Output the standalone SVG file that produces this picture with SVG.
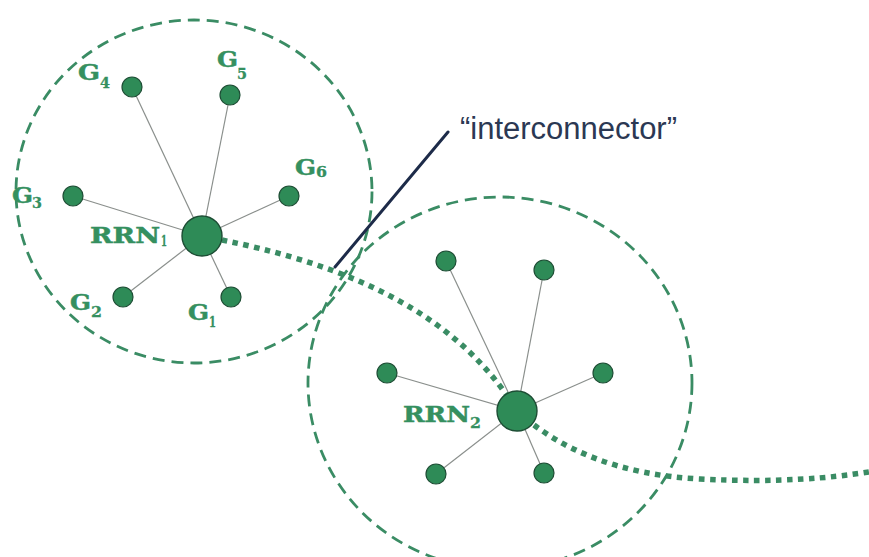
<svg xmlns="http://www.w3.org/2000/svg" width="869" height="557" viewBox="0 0 869 557">
  <style>
    .zone { fill: none; stroke: #3a8c64; stroke-width: 2.8; stroke-dasharray: 12 7; }
    .spoke { stroke: #8a8f8c; stroke-width: 1.2; }
    .tie { fill: none; stroke: #3a8c64; stroke-width: 5.5; stroke-dasharray: 5.5 5.5; }
    .ic { stroke: #1d2b49; stroke-width: 3; stroke-linecap: round; }
    .gen { fill: #2e8b57; stroke: #1d4d34; stroke-width: 1.2; }
    .hub { fill: #2e8b57; stroke: #1d4d34; stroke-width: 1.4; }
    .lbl { font-family: "DejaVu Serif", "Liberation Serif", serif; font-weight: bold; fill: #35905f; font-size: 21.5px; stroke: #35905f; stroke-width: 0.5; }
    .sub { font-family: "DejaVu Serif", "Liberation Serif", serif; font-weight: bold; fill: #35905f; font-size: 14px; stroke: #35905f; stroke-width: 0.3; }
    .note { font-family: "Liberation Sans", Arial, sans-serif; fill: #2b3853; font-size: 31px; }
  </style>

  <!-- regional boundaries -->
  <g id="regions">
    <ellipse id="region1" class="zone" cx="194" cy="191.5" rx="178" ry="171.5"/>
    <ellipse id="region2" class="zone" cx="500" cy="383" rx="192" ry="186"/>
  </g>

  <!-- connectors -->
  <g id="connectors">
    <line class="spoke" x1="202" y1="236" x2="132" y2="87"/>
    <line class="spoke" x1="202" y1="236" x2="230" y2="95"/>
    <line class="spoke" x1="202" y1="236" x2="289" y2="196"/>
    <line class="spoke" x1="202" y1="236" x2="73" y2="196"/>
    <line class="spoke" x1="202" y1="236" x2="123" y2="297"/>
    <line class="spoke" x1="202" y1="236" x2="231" y2="297"/>

    <line class="spoke" x1="517" y1="411" x2="446" y2="261"/>
    <line class="spoke" x1="517" y1="411" x2="544" y2="270"/>
    <line class="spoke" x1="517" y1="411" x2="603" y2="373"/>
    <line class="spoke" x1="517" y1="411" x2="387" y2="373"/>
    <line class="spoke" x1="517" y1="411" x2="436" y2="474"/>
    <line class="spoke" x1="517" y1="411" x2="544" y2="473"/>

    <path class="tie" d="M222,240 C320,260 450,300 517,411"/>
    <path class="tie" d="M517,411 C560,450 620,475 700,479 C780,483 830,478 869,472"/>

    <line class="ic" x1="335" y1="267" x2="448" y2="132"/>
  </g>

  <!-- region 1 -->
  <g id="RRN1"><circle class="hub" cx="202" cy="236" r="20"/></g>
  <g id="G4"><circle class="gen" cx="132" cy="87" r="10"/></g>
  <g id="G5"><circle class="gen" cx="230" cy="95" r="10"/></g>
  <g id="G6"><circle class="gen" cx="289" cy="196" r="10"/></g>
  <g id="G3"><circle class="gen" cx="73" cy="196" r="10"/></g>
  <g id="G2"><circle class="gen" cx="123" cy="297" r="10"/></g>
  <g id="G1"><circle class="gen" cx="231" cy="297" r="10"/></g>

  <!-- region 2 -->
  <g id="RRN2"><circle class="hub" cx="517" cy="411" r="20"/></g>
  <g id="n2a"><circle class="gen" cx="446" cy="261" r="10"/></g>
  <g id="n2b"><circle class="gen" cx="544" cy="270" r="10"/></g>
  <g id="n2c"><circle class="gen" cx="603" cy="373" r="10"/></g>
  <g id="n2d"><circle class="gen" cx="387" cy="373" r="10"/></g>
  <g id="n2e"><circle class="gen" cx="436" cy="474" r="10"/></g>
  <g id="n2f"><circle class="gen" cx="544" cy="473" r="10"/></g>

  <!-- labels -->
  <g id="labels">
    <text class="lbl" x="78" y="80" textLength="22" lengthAdjust="spacingAndGlyphs">G</text>
    <text class="sub" x="100" y="88" textLength="10" lengthAdjust="spacingAndGlyphs">4</text>

    <text class="lbl" x="217" y="67" textLength="21" lengthAdjust="spacingAndGlyphs">G</text>
    <text class="sub" x="237" y="79" textLength="10" lengthAdjust="spacingAndGlyphs">5</text>

    <text class="lbl" x="295" y="175" textLength="21" lengthAdjust="spacingAndGlyphs">G</text>
    <text class="sub" x="316" y="177" textLength="11" lengthAdjust="spacingAndGlyphs">6</text>

    <text class="lbl" x="12" y="203" textLength="21" lengthAdjust="spacingAndGlyphs">G</text>
    <text class="sub" x="32" y="208" textLength="10" lengthAdjust="spacingAndGlyphs">3</text>

    <text class="lbl" x="90" y="243" textLength="70" lengthAdjust="spacingAndGlyphs">RRN</text>
    <text class="sub" x="161" y="246" textLength="6" lengthAdjust="spacingAndGlyphs">1</text>

    <text class="lbl" x="70" y="310" textLength="21" lengthAdjust="spacingAndGlyphs">G</text>
    <text class="sub" x="91" y="317" textLength="11" lengthAdjust="spacingAndGlyphs">2</text>

    <text class="lbl" x="188" y="320" textLength="21" lengthAdjust="spacingAndGlyphs">G</text>
    <text class="sub" x="209" y="327" textLength="7" lengthAdjust="spacingAndGlyphs">1</text>

    <text class="lbl" x="403" y="422" textLength="67" lengthAdjust="spacingAndGlyphs">RRN</text>
    <text class="sub" x="470" y="428" textLength="11" lengthAdjust="spacingAndGlyphs">2</text>

    <text class="note" x="460" y="139" textLength="217" lengthAdjust="spacingAndGlyphs">“interconnector”</text>
  </g>
</svg>
